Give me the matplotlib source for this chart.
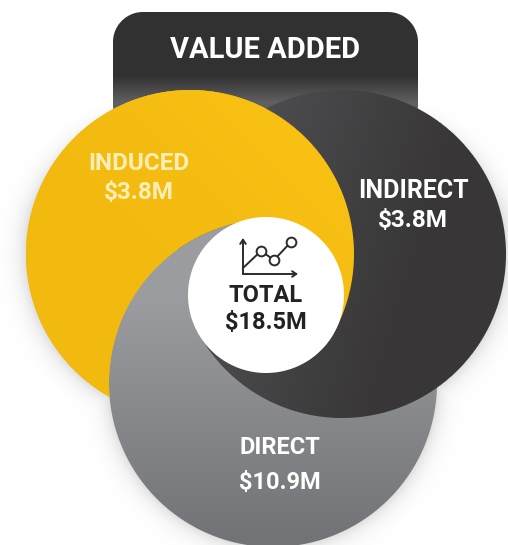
"""Value added swirl diagram."""

import numpy as np
import matplotlib

matplotlib.use("Agg")
import matplotlib.pyplot as plt

W, H = 508, 545

title = "VALUE ADDED"
segments = ["INDUCED", "INDIRECT", "DIRECT"]
amounts = ["$3.8M", "$3.8M", "$10.9M"]
total_label = "TOTAL"
total_amount = "$18.5M"

# icon polyline
icon_x = [243, 261, 274, 291]
icon_y = [268, 251, 260, 242]

plt.rcParams["font.family"] = ["Roboto", "DejaVu Sans"]
plt.rcParams["font.weight"] = "bold"

yy, xx = np.mgrid[0:H, 0:W] + 0.5


def disc(cx, cy, r):
    return np.clip(r - np.hypot(xx - cx, yy - cy) + 0.5, 0, 1)


def blend(c0, c1, t):
    c0 = np.array(matplotlib.colors.to_rgb(c0))
    c1 = np.array(matplotlib.colors.to_rgb(c1))
    return c0 + (c1 - c0) * np.clip(t, 0, 1)[..., None]


def layer(ax, rgb, alpha):
    ax.imshow(rgb, alpha=np.clip(alpha, 0, 1), extent=(0, W, H, 0),
              interpolation="nearest", aspect="auto", zorder=1)


def rounded_box(x0, y0, x1, y1, r):
    dx = np.maximum(np.maximum(x0 + r - xx, xx - x1 + r), 0)
    dy = np.maximum(np.maximum(y0 + r - yy, yy - y1 + r), 0)
    return np.clip(r - np.hypot(dx, dy) + 0.5, 0, 1)


fig = plt.figure(figsize=(W / 100, H / 100), dpi=100)
ax = fig.add_axes([0, 0, 1, 1])
ax.set_xlim(0, W)
ax.set_ylim(H, 0)
ax.axis("off")

YEL = (190, 254, 164)
DRK = (342, 254, 164)
GRY = (273, 383, 164)
WHT = (266, 295, 78)

a_y, a_d, a_g, a_w = disc(*YEL), disc(*DRK), disc(*GRY), disc(*WHT)

# soft drop shadow under everything, fading out towards the top
dist = np.minimum.reduce([np.hypot(xx - c[0], yy - c[1]) - c[2] for c in (YEL, DRK, GRY)])
shadow = 0.13 * np.exp(-np.maximum(dist, 0) / 9) * np.clip((yy - 90) / 120, 0, 1)
layer(ax, np.zeros((H, W, 3)), shadow)

box_rgb = blend("#323132", "#5f5f61", (yy - 76) / 26)
layer(ax, box_rgb, rounded_box(113, 12, 418, 135, 30))

yel_rgb = blend("#fac415", "#f2b90f", (W - xx + yy - 200) / 450)
drk_rgb = blend("#4e4e50", "#383637", (xx + yy * 0.3 - 280) / 220)
gry_rgb = blend("#9a9c9f", "#727376", (yy - 300) / 240)

layer(ax, yel_rgb, a_y)
layer(ax, gry_rgb, a_g)
layer(ax, drk_rgb, a_d)

# the three overlaps run in a cycle, so the triple overlap is split around the centre
upper = yy < WHT[1] + 35
layer(ax, gry_rgb, a_g * a_y * (xx < WHT[0]) * upper)
layer(ax, yel_rgb, a_y * (1 - a_g) + a_y * a_g * (xx > WHT[0]) * upper)

layer(ax, np.ones((H, W, 3)), a_w)

for spine_x, spine_y in [((243, 243), (274, 238)), ((243, 298), (274, 274))]:
    ax.annotate("", xy=(spine_x[1], spine_y[1]), xytext=(spine_x[0], spine_y[0]),
                arrowprops=dict(arrowstyle="->,head_length=0.3,head_width=0.2", color="#2b2b2b", lw=1.4,
                                shrinkA=0, shrinkB=0), zorder=3)
ax.plot(icon_x, icon_y, color="#2b2b2b", lw=1.4, zorder=3)
ax.plot(icon_x[1:], icon_y[1:], "o", ms=7, mfc="white", mec="#2b2b2b", mew=1.4, zorder=4)

ax.text(265.5, 50, title, color="white", fontsize=21, ha="center", va="center", zorder=5)
ax.text(139, 163, segments[0], color="#fdeeb5", fontsize=17.5, ha="center", va="center", zorder=5)
ax.text(139, 192, amounts[0], color="#fdeeb5", fontsize=17.5, ha="center", va="center", zorder=5)
ax.text(413, 191, segments[1], color="white", fontsize=18, ha="center", va="center", zorder=5)
ax.text(413, 220, amounts[1], color="white", fontsize=17.5, ha="center", va="center", zorder=5)
ax.text(280, 448, segments[2], color="white", fontsize=17, ha="center", va="center", zorder=5)
ax.text(280, 482, amounts[2], color="white", fontsize=17, ha="center", va="center", zorder=5)
ax.text(266, 295, total_label, color="#222222", fontsize=17, ha="center", va="center", zorder=5)
ax.text(266, 323, total_amount, color="#222222", fontsize=17, ha="center", va="center", zorder=5)

fig.savefig("out.png", dpi=100)
plt.close(fig)
